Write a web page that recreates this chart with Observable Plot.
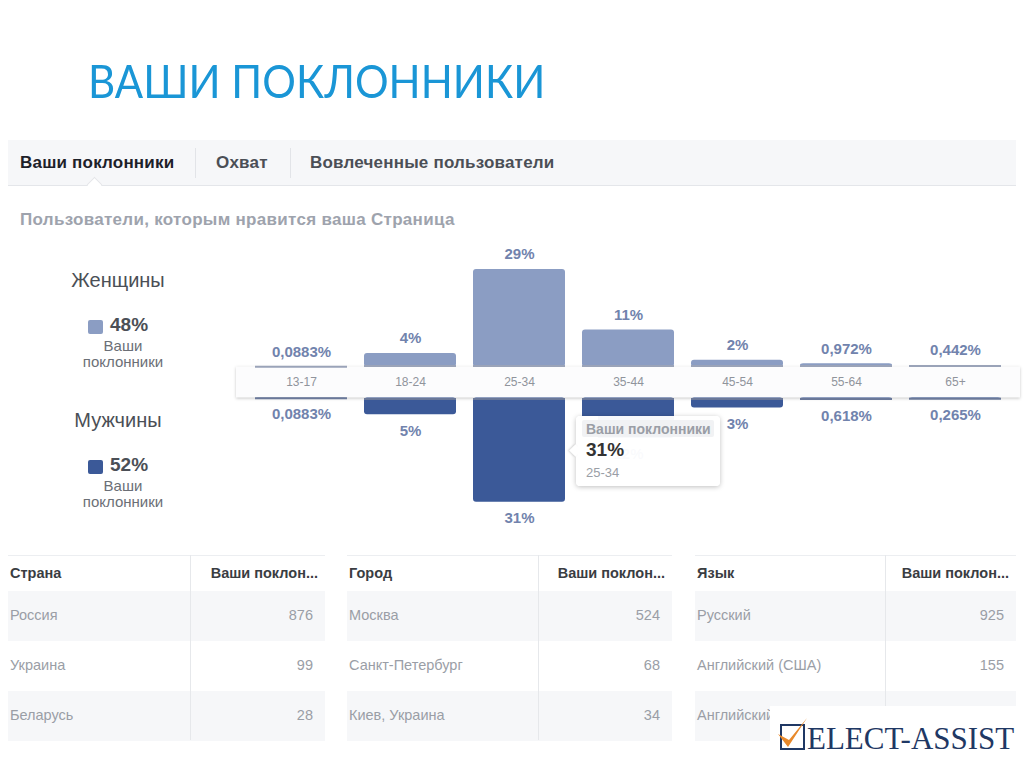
<!DOCTYPE html>
<html><head><meta charset="utf-8">
<script src="https://cdn.jsdelivr.net/npm/d3@7"></script>
<script src="https://cdn.jsdelivr.net/npm/@observablehq/plot@0.6"></script>
<style>
body{margin:0;background:#fff;font-family:"Liberation Sans",Arial,sans-serif;}
#page{position:relative;width:1024px;height:767px;overflow:hidden;background:#fff;}
.abs{position:absolute;white-space:nowrap;}
#title{left:88px;top:52px;font-family:Lato,"Open Sans",sans-serif;font-size:47px;color:#1a96d6;transform:scaleX(0.895);transform-origin:0 0;}
#tabs{left:8px;top:140px;width:1008px;height:45px;background:#f6f7f9;border-bottom:1px solid #e4e6ea;}
.tab{position:absolute;top:13px;font-size:17px;letter-spacing:0.2px;font-weight:bold;color:#4b4f56;}
.sep{position:absolute;top:8px;width:1px;height:30px;background:#e2e4e8;}
#sub{left:20px;top:210px;font-size:17px;letter-spacing:0.3px;font-weight:bold;color:#9ea3ad;}
.gl{position:absolute;width:140px;text-align:center;color:#4b4f56;}
.gname{font-size:20px;}
.sq{position:absolute;width:15px;height:14px;border-radius:2px;}
.pct{position:absolute;font-size:19px;font-weight:bold;color:#4b4f56;}
.small{font-size:15px;color:#6b6f76;line-height:16px;}
#chart{left:230px;top:234px;}
.tbl{position:absolute;top:555px;height:185px;}
.hdr{position:absolute;top:0;height:35px;left:0;right:0;border-bottom:1px solid #dcdee2;border-top:1px solid #eceef1;}
.row{position:absolute;left:0;right:0;height:50px;}
.cell{position:absolute;font-size:14.5px;color:#9a9ea6;}
.hcell{position:absolute;top:9px;font-size:14.5px;font-weight:bold;color:#3a3d42;}
.vline{position:absolute;top:0;width:1px;height:185px;background:#e6e8eb;}
#tip{left:576px;top:416px;width:144px;height:70px;background:rgba(255,255,255,0.96);border-radius:4px;box-shadow:0 1px 5px rgba(0,0,0,.25);}
#logo{left:770px;top:706px;width:254px;height:61px;background:#fff;}
</style></head><body><div id="page"></div>
<script>
// ---- data ----
const ages = ["13-17","18-24","25-34","35-44","45-54","55-64","65+"];
const women = [0.0883, 4, 29, 11, 2, 0.972, 0.442];
const men = [0.0883, 5, 31, 12, 3, 0.618, 0.265];
const genderNames = ["Женщины", "Мужчины"];
const genderTotals = [48, 52];
const tabs = ["Ваши поклонники", "Охват", "Вовлеченные пользователи"];
const countries = ["Россия", "Украина", "Беларусь"];
const countryFans = [876, 99, 28];
const cities = ["Москва", "Санкт-Петербург", "Киев, Украина"];
const cityFans = [524, 68, 34];
const languages = ["Русский", "Английский (США)", "Английский (Великобритания)"];
const languageFans = [925, 155, null];

const femaleColor = "#8b9dc3";
const maleColor = "#3b5998";
const labelColor = "#7183ad";
const fmt = v => String(v).replace(".", ",") + "%";

const page = document.getElementById("page");
function el(tag, cls, css, html, parent) {
  const e = document.createElement(tag);
  if (cls) e.className = cls;
  if (css) e.style.cssText = css;
  if (html != null) e.textContent = html;
  (parent || page).appendChild(e);
  return e;
}

// title
const t = el("div", "abs", "", "ВАШИ ПОКЛОННИКИ"); t.id = "title";

// tabs
const tb = el("div", "abs"); tb.id = "tabs";
const tabX = [12, 208, 302];
tabs.forEach((s, i) => {
  el("div", "tab", `left:${tabX[i]}px;${i === 0 ? "color:#1d2129;" : ""}`, s, tb);
});
el("div", "sep", "left:187px;", null, tb);
el("div", "sep", "left:282px;", null, tb);
el("div", "", "position:absolute;left:81px;top:39px;width:10px;height:10px;background:#fff;border-left:1px solid #e4e6ea;border-top:1px solid #e4e6ea;transform:rotate(45deg);", null, tb);

const sub = el("div", "abs", "", "Пользователи, которым нравится ваша Страница"); sub.id = "sub";

// gender legends
[[0, 269, femaleColor], [1, 409, maleColor]].forEach(([i, y, c]) => {
  el("div", "gl gname", `left:48px;top:${y}px;`, genderNames[i]);
  el("div", "sq", `left:88px;top:${y + 51}px;background:${c};`);
  el("div", "pct", `left:110px;top:${y + 45}px;`, genderTotals[i] + "%");
  el("div", "gl small", `left:53px;top:${y + 69}px;`, "Ваши");
  el("div", "gl small", `left:53px;top:${y + 85}px;`, "поклонники");
});

// chart
const g = 4.6;
const rows = ages.map((a, i) => ({age: a, w: women[i], m: men[i]}));
const chart = Plot.plot({
  width: 794, height: 296,
  marginLeft: 6, marginRight: 4, marginTop: 0, marginBottom: 0,
  style: {background: "transparent", overflow: "visible", fontFamily: "Liberation Sans, Arial, sans-serif"},
  x: {domain: ages, padding: 0.16, axis: null},
  y: {domain: [-44, 44], axis: null},
  marks: [
    Plot.rect([0], {y1: -g, y2: g, fill: "#fcfcfd"}),
    Plot.barY(rows, {x: "age", y1: g, y2: d => g + d.w, fill: femaleColor, rx: 3}),
    Plot.barY(rows, {x: "age", y1: -g, y2: d => -g - d.m, fill: maleColor, rx: 3}),
    Plot.tickY(rows, {x: "age", y: d => g + Math.min(d.w, 0.3), stroke: "#9aa3b8", strokeWidth: 2}),
    Plot.tickY(rows, {x: "age", y: d => -g - Math.min(d.m, 0.3), stroke: "#6a7899", strokeWidth: 2}),
    Plot.text(rows, {x: "age", y: d => g + d.w, text: d => fmt(d.w), dy: -15, fill: labelColor, fontSize: 15, fontWeight: "bold"}),
    Plot.text(rows, {x: "age", y: d => -g - d.m, text: d => fmt(d.m), dy: 16, fill: labelColor, fontSize: 15, fontWeight: "bold"}),
    Plot.text(rows, {x: "age", y: 0, text: "age", fill: "#90949c", fontSize: 12})
  ]
});
chart.classList.add("abs");
chart.id = "chart";
page.appendChild(chart);
const band = chart.querySelector('g[aria-label="rect"]');
if (band) band.style.filter = "drop-shadow(0 1px 1.5px rgba(0,0,0,0.22))";

// tooltip
const tip = el("div", "abs"); tip.id = "tip";
el("div", "", "position:absolute;left:-5px;top:30px;width:9px;height:9px;background:#fff;transform:rotate(45deg);box-shadow:-1px 1px 2px rgba(0,0,0,.15);", null, tip);
el("div", "", "position:absolute;left:2px;top:0;width:20px;height:70px;background:#fff;", null, tip);
el("div", "", "position:absolute;left:6px;top:4px;width:132px;height:17px;background:#f1f2f4;border-radius:2px;", null, tip);
el("div", "", "position:absolute;left:10px;top:5px;font-size:14px;font-weight:bold;color:#9a9ea6;", "Ваши поклонники", tip);
el("div", "", "position:absolute;left:10px;top:23px;font-size:19px;font-weight:bold;color:#333;", fmt(men[2]), tip);
el("div", "", "position:absolute;left:10px;top:49px;font-size:13px;color:#9a9ea6;", ages[2], tip);

// tables
function table(left, width, split, head, names, vals) {
  const T = el("div", "tbl", `left:${left}px;width:${width}px;`);
  const h = el("div", "hdr", "", null, T);
  el("div", "hcell", "left:2px;", head, h);
  el("div", "hcell", `right:7px;`, "Ваши поклон...", h);
  names.forEach((n, i) => {
    const r = el("div", "row", `top:${36 + i * 50}px;background:${i % 2 === 0 ? "#f6f7f9" : "#fff"};`, null, T);
    el("div", "cell", "left:2px;top:16px;", n, r);
    if (vals[i] != null) el("div", "cell", "right:12px;top:16px;", String(vals[i]), r);
  });
  el("div", "vline", `left:${split}px;`, null, T);
}
table(8, 317, 182, "Страна", countries, countryFans);
table(347, 325, 191, "Город", cities, cityFans);
table(695, 321, 190, "Язык", languages, languageFans);

// logo
const lg = el("div", "abs"); lg.id = "logo";
lg.innerHTML = '<svg width="254" height="61" style="position:absolute;left:0;top:0">' +
  '<rect x="11" y="19" width="23" height="24" fill="none" stroke="#1f3864" stroke-width="2"/>' +
  '<path d="M8 28 L18 41 L37 12 L19 34 Z" fill="#e8892b"/>' +
  '<text x="37" y="43" font-family="Liberation Serif, serif" font-size="31" fill="#1f3864">ELECT-ASSIST</text></svg>';
</script></body></html>
